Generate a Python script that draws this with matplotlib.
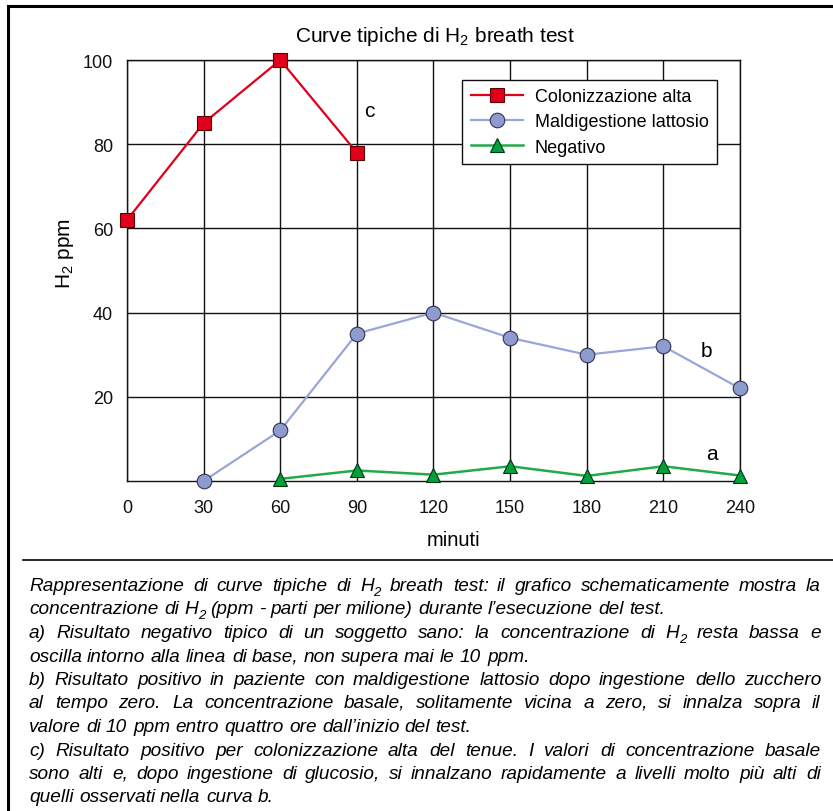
import matplotlib
matplotlib.use("Agg")
import matplotlib.pyplot as plt
from matplotlib import font_manager
from matplotlib.font_manager import FontProperties
from matplotlib.lines import Line2D
from matplotlib.transforms import IdentityTransform

# data
minuti = [0, 30, 60, 90, 120, 150, 180, 210, 240]
y_ticks = [20, 40, 60, 80, 100]

col_x = [0, 30, 60, 90]
col_y = [62, 85, 100, 78]

mal_x = [30, 60, 90, 120, 150, 180, 210, 240]
mal_y = [0, 12, 35, 40, 34, 30, 32, 22]

neg_x = [60, 90, 120, 150, 180, 210, 240]
neg_y = [0.5, 2.5, 1.5, 3.5, 1.2, 3.5, 1.3]

curve_labels = ["c", "b", "a"]
curve_label_x = [95, 227, 229]
curve_label_y = [88, 31, 6.5]

# (line text, justified?)  "H_2" is drawn with a subscript
caption = [
    ("Rappresentazione di curve tipiche di H_2 breath test: il grafico schematicamente mostra la", True),
    ("concentrazione di H_2 (ppm - parti per milione) durante l\u2019esecuzione del test.", False),
    ("a) Risultato negativo tipico di un soggetto sano: la concentrazione di H_2 resta bassa e", True),
    ("oscilla intorno alla linea di base, non supera mai le 10 ppm.", False),
    ("b) Risultato positivo in paziente con maldigestione lattosio dopo ingestione dello zucchero", True),
    ("al tempo zero. La concentrazione basale, solitamente vicina a zero, si innalza sopra il", True),
    ("valore di 10 ppm entro quattro ore dall\u2019inizio del test.", False),
    ("c) Risultato positivo per colonizzazione alta del tenue. I valori di concentrazione basale", True),
    ("sono alti e, dopo ingestione di glucosio, si innalzano rapidamente a livelli molto pi\u00f9 alti di", True),
    ("quelli osservati nella curva b.", False),
]

plt.rcParams["font.family"] = ["Liberation Sans", "DejaVu Sans"]
plt.rcParams["mathtext.fontset"] = "custom"
plt.rcParams["mathtext.rm"] = "Liberation Sans"
plt.rcParams["mathtext.it"] = "Liberation Sans:italic"

W, H = 833, 812
fig = plt.figure(figsize=(W / 100, H / 100), dpi=100)
ax = fig.add_axes([127 / W, 1 - 482 / H, (740 - 127) / W, (482 - 61) / H])

red = "#e0001b"
blue, blue_line = "#8e9bcf", "#9aa5d8"
green, green_line = "#00a03c", "#22aa4a"

ax.plot(col_x, col_y, color=red, lw=1.6, marker="s", ms=10,
        mfc=red, mec="#5a0000", mew=0.8, clip_on=False, zorder=4,
        label="Colonizzazione alta")
ax.plot(mal_x, mal_y, color=blue_line, lw=1.6, marker="o", ms=10.5,
        mfc=blue, mec="#333355", mew=0.8, clip_on=False, zorder=4,
        label="Maldigestione lattosio")
ax.plot(neg_x, neg_y, color=green_line, lw=1.8, marker="^", ms=10.5,
        mfc=green, mec="#003311", mew=0.8, clip_on=False, zorder=4,
        label="Negativo")

ax.set_xlim(0, 240)
ax.set_ylim(0, 100)
ax.set_xticks(minuti)
ax.set_yticks(y_ticks)
ax.tick_params(length=0, labelsize=13, colors="#111111")
ax.tick_params(axis="x", pad=13)
ax.tick_params(axis="y", pad=10)
ax.grid(True, color="#111111", lw=1)
ax.set_axisbelow(True)
for sp in ax.spines.values():
    sp.set_color("#111111")
    sp.set_linewidth(1)

px = IdentityTransform()
fig.text(454, H - 541, "minuti", fontsize=14.5, ha="center", va="center", transform=px)
fig.text(65, H - 253, "H$_2$ ppm", fontsize=15, rotation=90,
         ha="center", va="center", transform=px)
fig.text(435, H - 37, "Curve tipiche di H$_2$ breath test",
         ha="center", va="center", fontsize=15, transform=px)

for lab, lx, ly in zip(curve_labels, curve_label_x, curve_label_y):
    ax.text(lx, ly, lab, fontsize=15, ha="center", va="center", zorder=5)

leg = ax.legend(loc="upper right", bbox_to_anchor=(0.962, 0.952),
                fontsize=13, frameon=True, fancybox=False, framealpha=1,
                edgecolor="#111111", handlelength=2.9, handletextpad=0.65,
                labelspacing=0.45, borderpad=0.45, borderaxespad=0)
leg.get_frame().set_linewidth(1)

# frame lines of the figure (top, left) and separator
fig.add_artist(Line2D([8, W], [H - 7, H - 7], transform=px, color="black", lw=2.2))
fig.add_artist(Line2D([8, 8], [0, H - 7], transform=px, color="black", lw=2.2))
fig.add_artist(Line2D([23, W], [H - 561, H - 561], transform=px, color="black", lw=1.2))

# regular-width Liberation Sans italic for the caption
italic_files = [f for f in font_manager.fontManager.ttflist
                if f.name == "Liberation Sans" and f.style == "italic"
                and f.weight in (400, "normal", "regular") and "Narrow" not in f.fname]
if italic_files:
    cap_fp = FontProperties(fname=italic_files[0].fname, size=13.7)
else:
    cap_fp = FontProperties(family="Liberation Sans", style="italic", size=13.7)
sub_fp = cap_fp.copy()
sub_fp.set_size(9.5)

renderer = fig.canvas.get_renderer()


def word_artists(word):
    if word == "H_2":
        return [(fig.text(0, 0, "H", fontproperties=cap_fp, transform=px), 0),
                (fig.text(0, 0, "2", fontproperties=sub_fp, transform=px), -5)]
    return [(fig.text(0, 0, word, fontproperties=cap_fp, transform=px), 0)]


def width_of(t):
    return t.get_window_extent(renderer).width


probe1 = fig.text(0, 0, "a a", fontproperties=cap_fp, transform=px)
probe2 = fig.text(0, 0, "aa", fontproperties=cap_fp, transform=px)
space = width_of(probe1) - width_of(probe2)
probe1.remove()
probe2.remove()

x0, x1 = 29, 821
y_first, dy = H - 591, 23.5
for i, (line, justify) in enumerate(caption):
    y = round(y_first - i * dy)
    words = [word_artists(w) for w in line.split()]
    widths = [sum(width_of(t) for t, _ in parts) for parts in words]
    if justify and len(words) > 1:
        gap = (x1 - x0 - sum(widths)) / (len(words) - 1)
    else:
        gap = space
    x = x0
    for parts, w in zip(words, widths):
        xx = x
        for t, off in parts:
            t.set_position((round(xx), y + off))
            t.set_va("baseline")
            xx += width_of(t)
        x += w + gap

fig.savefig("out.png", dpi=100)
